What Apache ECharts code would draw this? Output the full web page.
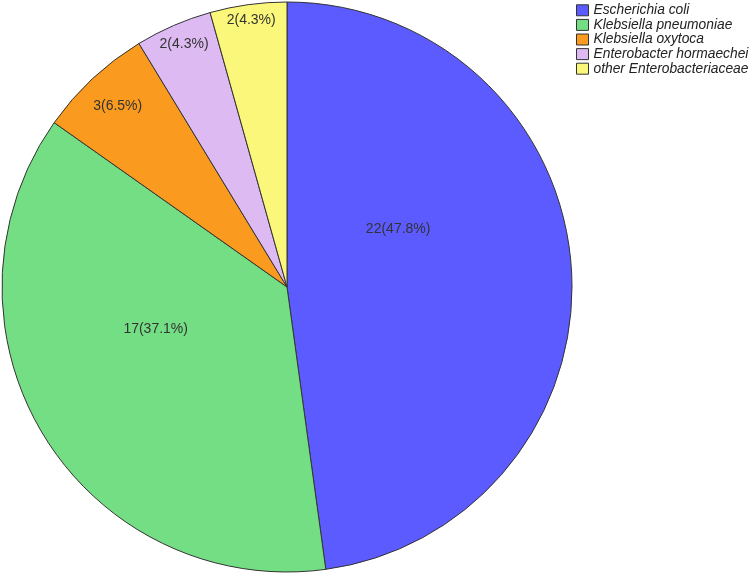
<!DOCTYPE html>
<html>
<head>
<meta charset="utf-8">
<script src="https://cdn.jsdelivr.net/npm/echarts@6/dist/echarts.min.js"></script>
<style>
  html, body { margin: 0; padding: 0; background: #fff; }
  #chart { width: 750px; height: 575px; }
</style>
</head>
<body>
<div id="chart"></div>
<script>
  // 数据
  const categories = ['Escherichia coli', 'Klebsiella pneumoniae', 'Klebsiella oxytoca', 'Enterobacter hormaechei', 'other Enterobacteriaceae']
  const counts = [22, 17, 3, 2, 2]
  const percentLabels = ['47.8%', '37.1%', '6.5%', '4.3%', '4.3%']

  // 样式
  const colors = ['#5B5BFF', '#74DE84', '#FA9A1E', '#DDBBF2', '#FAF77A']
  // label nudges from the default inside position
  const labelNudge = [[-34, -48], [-7, -33], [-70, -75], [-45, -109], [-16, -123]]

  let chart = echarts.init(document.getElementById('chart'))

  chart.setOption({
    animation: false,
    color: colors,
    legend: {
      orient: 'vertical',
      left: 576,
      top: 3,
      padding: 0,
      icon: 'rect',
      itemWidth: 12,
      itemHeight: 11,
      itemGap: 0,
      itemStyle: {
        borderColor: '#333',
        borderWidth: 1
      },
      textStyle: {
        fontFamily: "Arial, 'Liberation Sans', sans-serif",
        fontStyle: 'italic',
        fontSize: 13.8,
        lineHeight: 14.6,
        color: '#222'
      },
      data: categories
    },
    series: [
      {
        type: 'pie',
        center: [287, 287],
        radius: 285,
        startAngle: 90,
        clockwise: true,
        emphasis: { disabled: true },
        itemStyle: {
          borderColor: '#333',
          borderWidth: 1
        },
        label: {
          show: true,
          position: 'inside',
          fontFamily: "Arial, 'Liberation Sans', sans-serif",
          fontSize: 14,
          color: '#333',
          formatter: function (p) {
            return p.value + '(' + percentLabels[p.dataIndex] + ')'
          }
        },
        labelLayout: function (params) {
          let n = labelNudge[params.dataIndex]
          return { dx: n[0], dy: n[1] }
        },
        data: categories.map((c, i) => ({ name: c, value: counts[i] }))
      }
    ]
  })
</script>
</body>
</html>
